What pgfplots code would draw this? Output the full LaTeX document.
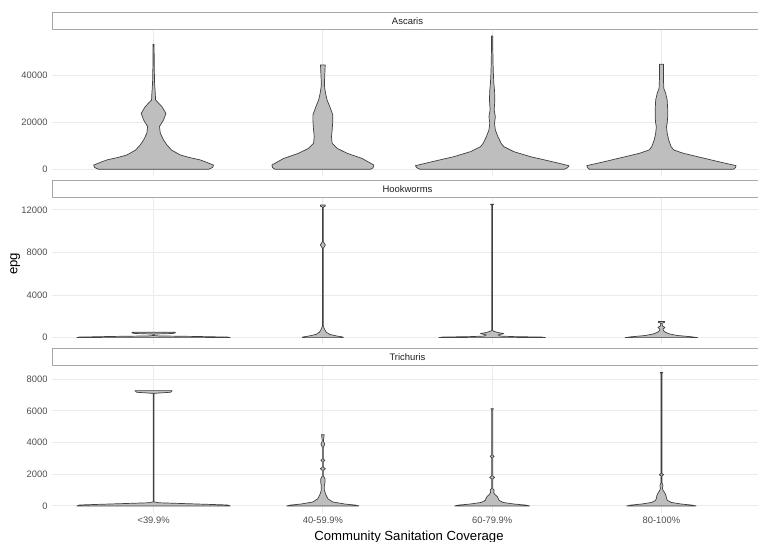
\documentclass[border=0pt]{standalone}
\usepackage{fontspec}
\setmainfont{Liberation Sans}
\usepackage{pgfplots}
\pgfplotsset{compat=1.18}
\usepackage{pgfplotstable}
\usepgfplotslibrary{fillbetween}

\definecolor{gridgray}{HTML}{EBEBEB}
\definecolor{tickgray}{HTML}{4D4D4D}
\definecolor{violinfill}{HTML}{BEBEBE}
\definecolor{violinline}{HTML}{404040}
\definecolor{stripline}{HTML}{A8A8A8}

% Violin profiles: y = epg, w = half width (in category units)
% ---- Ascaris ----
\pgfplotstableread{
y w
0 0.325
800 0.349
1800 0.354
3000 0.313
4000 0.276
5000 0.213
6100 0.158
8200 0.106
10350 0.079
12500 0.059
15300 0.040
18200 0.035
21000 0.059
23800 0.073
26700 0.049
29500 0.012
32300 0.010
36600 0.006
43700 0.004
53200 0.003
}\ascA
\pgfplotstableread{
y w
0 0.282
700 0.297
1844 0.301
4681 0.230
6808 0.144
8936 0.084
11064 0.055
13900 0.051
16737 0.055
20992 0.059
23120 0.059
26666 0.041
29503 0.025
32340 0.016
35176 0.010
38013 0.010
44397 0.014
}\ascB
\pgfplotstableread{
y w
0 0.425
700 0.446
1560 0.453
3262 0.354
5390 0.226
7518 0.128
9645 0.069
11064 0.053
13900 0.034
16737 0.019
19574 0.014
22411 0.019
25248 0.012
29503 0.016
33758 0.014
36595 0.010
39432 0.008
43687 0.006
50779 0.004
56736 0.004
}\ascC
\pgfplotstableread{
y w
0 0.425
700 0.437
1560 0.441
3262 0.337
5390 0.213
6808 0.130
8227 0.073
9645 0.057
12482 0.043
15319 0.034
18156 0.030
19574 0.034
22411 0.037
25248 0.037
29503 0.034
32340 0.025
34467 0.014
38013 0.012
44680 0.012
}\ascD
% ---- Hookworms ----
\pgfplotstableread{
y w
0 0.453
50 0.440
110 0.250
160 0.030
200 0.002
330 0.002
390 0.110
440 0.128
507 0.128
}\hookA
\pgfplotstableread{
y w
0 0.121
60 0.118
150 0.083
300 0.041
500 0.021
750 0.011
950 0.006
1100 0.002
8380 0.002
8700 0.015
9020 0.002
12250 0.002
12330 0.014
12450 0.014
}\hookB
\pgfplotstableread{
y w
0 0.315
50 0.295
100 0.118
150 0.047
250 0.035
380 0.069
480 0.035
600 0.009
700 0.002
12440 0.002
12517 0.010
}\hookC
\pgfplotstableread{
y w
0 0.214
80 0.177
200 0.095
350 0.047
500 0.024
650 0.012
800 0.009
950 0.021
1100 0.006
1350 0.003
1430 0.018
1520 0.018
}\hookD
% ---- Trichuris ----
\pgfplotstableread{
y w
0 0.453
60 0.437
130 0.236
200 0.030
260 0.002
7110 0.002
7180 0.100
7282 0.110
}\triA
\pgfplotstableread{
y w
0 0.213
50 0.195
120 0.130
250 0.059
450 0.030
700 0.018
1000 0.009
1300 0.009
1500 0.013
1700 0.013
1900 0.003
2250 0.003
2350 0.015
2450 0.003
2800 0.003
2880 0.012
2960 0.003
3700 0.003
3900 0.011
4100 0.003
4500 0.008
}\triB
\pgfplotstableread{
y w
0 0.221
50 0.201
120 0.130
220 0.065
350 0.041
500 0.035
600 0.030
700 0.018
850 0.009
1000 0.012
1100 0.003
1700 0.003
1800 0.015
1900 0.003
3050 0.003
3130 0.012
3210 0.003
6100 0.003
6140 0.008
}\triC
\pgfplotstableread{
y w
0 0.205
50 0.183
120 0.118
220 0.059
350 0.035
480 0.030
650 0.027
800 0.021
1000 0.009
1120 0.006
1300 0.009
1450 0.003
1900 0.003
1970 0.013
2050 0.003
8380 0.003
8424 0.008
}\triD

% one violin: #1 = category position, #2 = profile table
\newcommand{\violin}[2]{%
  \addplot[draw=none, forget plot, name path=R#1] table[x expr=#1+\thisrow{w}, y=y] {#2};
  \addplot[draw=none, forget plot, name path=L#1] table[x expr=#1-\thisrow{w}, y=y] {#2};
  \addplot[fill=violinfill, draw=violinline, line width=0.7bp, line join=round]
    fill between[of=R#1 and L#1, reverse=true];
}

\pgfplotsset{
  panel/.style={
    scale only axis, width=711bp, height=146.7bp,
    xmin=0.4, xmax=4.6, xtick={1,2,3,4},
    axis line style={draw=none}, tick style={draw=none},
    grid=major, major grid style={draw=gridgray, line width=0.9bp},
    tick label style={font=\fontsize{9.4}{11}\selectfont, text=tickgray},
    yticklabel style={inner sep=0pt, xshift=-4.3bp},
    xticklabel style={inner sep=0pt, yshift=-4.2bp},
    scaled y ticks=false,
    /pgf/number format/fixed,
    /pgf/number format/1000 sep={},
    /pgf/number format/assume math mode=true,
  },
}
\tikzset{strip/.style={draw=stripline, fill=white, line width=1bp}}

\begin{document}
\begin{tikzpicture}
% facet strips
\foreach \s/\name in {12/Ascaris, 180.3/Hookworms, 348.6/Trichuris}{
  \draw[strip] (52bp,-\s bp) rectangle (763bp,-\s bp-17.3bp);
  \node[font=\fontsize{9.5}{11}\selectfont, text=black!88] at (407.5bp,-\s bp-8.8bp) {\name};
}

\begin{axis}[panel, at={(52bp,-176bp)}, anchor=south west,
  ymin=-2837, ymax=59573, ytick={0,20000,40000}, xticklabels={}]
\violin{1}{\ascA}
\violin{2}{\ascB}
\violin{3}{\ascC}
\violin{4}{\ascD}
\end{axis}

\begin{axis}[panel, at={(52bp,-344.3bp)}, anchor=south west,
  ymin=-626, ymax=13143, ytick={0,4000,8000,12000}, xticklabels={}]
\violin{1}{\hookA}
\violin{2}{\hookB}
\violin{3}{\hookC}
\violin{4}{\hookD}
\end{axis}

\begin{axis}[panel, at={(52bp,-512.6bp)}, anchor=south west,
  ymin=-421, ymax=8845, ytick={0,2000,4000,6000,8000},
  xticklabels={<39.9\%, 40-59.9\%, 60-79.9\%, 80-100\%}]
\violin{1}{\triA}
\violin{2}{\triB}
\violin{3}{\triC}
\violin{4}{\triD}
\end{axis}

% axis titles
\node[font=\fontsize{13.2}{15}\selectfont, anchor=base] at (409bp,-540bp) {Community Sanitation Coverage};
\node[font=\fontsize{13.2}{15}\selectfont, anchor=base, rotate=90] at (17.3bp,-264bp) {epg};

\pgfresetboundingbox
\useasboundingbox (0,0) rectangle (758bp,-542bp);
\end{tikzpicture}
\end{document}
